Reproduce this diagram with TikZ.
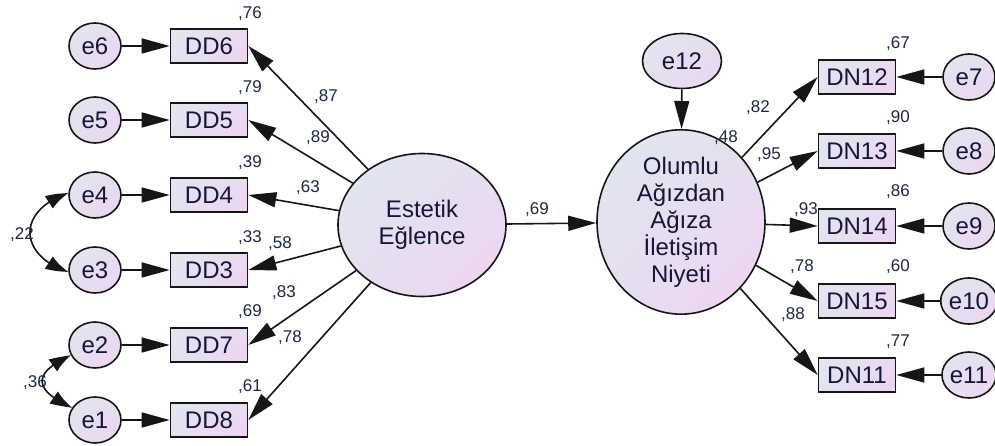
\documentclass[tikz,border=0pt]{standalone}
\usepackage{fontspec}
\setmainfont{Liberation Sans}
\usetikzlibrary{arrows.meta,bending,shapes.geometric}
\definecolor{gA}{HTML}{E1E5EF}
\definecolor{gB}{HTML}{EDD6F1}
\definecolor{ln}{HTML}{161616}
\definecolor{txt}{HTML}{16163A}
\definecolor{lab}{HTML}{1A2848}
\begin{document}
\begin{tikzpicture}[x=1pt,y=1pt,
  every node/.style={font=\fontsize{24}{27}\selectfont, text=txt},
  shadefill/.style={top color=gA, bottom color=gB, shading angle=45, draw=ln, line width=1.6pt},
  obs/.style={shadefill, rectangle, minimum width=77pt, minimum height=34pt, inner sep=0pt},
  err/.style={shadefill, ellipse, minimum width=52pt, minimum height=46pt, inner sep=0pt},
  lat/.style={shadefill, ellipse, minimum width=168pt, minimum height=143pt, inner sep=0pt, align=center},
  reg/.style={line width=1.6pt, draw=ln, -{Triangle[length=28pt,width=15pt]}},
  cov/.style={line width=1.6pt, draw=ln, {Triangle[length=23pt,width=14pt,bend]}-{Triangle[length=23pt,width=14pt,bend]}},
  lbl/.style={font=\fontsize{17}{20}\selectfont, text=lab, inner sep=0pt}
]
\useasboundingbox (0,0) rectangle (995,446);

% latent variables
\node[lat] (est) at (422,221) {Estetik\\Eğlence};
\node[lat] (olu) at (681,224) {Olumlu\\Ağızdan\\Ağıza\\İletişim\\Niyeti};
\node[err, minimum width=79pt, minimum height=55pt] (e12) at (682,385) {e12};

% left indicators and their errors
\node[obs] (dd6) at (209,400) {DD6};
\node[obs] (dd5) at (209,326) {DD5};
\node[obs] (dd4) at (209,251) {DD4};
\node[obs] (dd3) at (209,176) {DD3};
\node[obs] (dd7) at (209,101) {DD7};
\node[obs] (dd8) at (209,26) {DD8};
\node[err] (e6) at (95,400) {e6};
\node[err] (e5) at (95,326) {e5};
\node[err] (e4) at (95,251) {e4};
\node[err] (e3) at (95,176) {e3};
\node[err] (e2) at (95,101) {e2};
\node[err] (e1) at (95,26) {e1};

% right indicators and their errors
\node[obs] (dn12) at (857,369) {DN12};
\node[obs] (dn13) at (857,295) {DN13};
\node[obs] (dn14) at (857,220) {DN14};
\node[obs] (dn15) at (857,145) {DN15};
\node[obs] (dn11) at (857,71) {DN11};
\node[err] (e7) at (969,369) {e7};
\node[err] (e8) at (969,295) {e8};
\node[err] (e9) at (969,220) {e9};
\node[err] (e10) at (969,145) {e10};
\node[err] (e11) at (969,71) {e11};

% error paths
\foreach \e/\d in {e6/dd6,e5/dd5,e4/dd4,e3/dd3,e2/dd7,e1/dd8}
  \draw[reg] (\e.east) -- (\d.west);
\foreach \e/\d in {e7/dn12,e8/dn13,e9/dn14,e10/dn15,e11/dn11}
  \draw[reg] (\e.west) -- (\d.east);
\draw[reg] (e12) -- (olu);

% loadings
\foreach \d in {dd6,dd5,dd4,dd3,dd7,dd8}
  \draw[reg] (est) -- (\d.east);
\foreach \d in {dn12,dn13,dn14,dn15,dn11}
  \draw[reg] (olu) -- (\d.west);
\draw[reg] (est) -- (olu);

% error covariances
\draw[cov] (e4.176) to[out=198,in=162,looseness=1.75] (e3.184);
\draw[cov] (e2.203) to[out=205,in=155,looseness=2.1] (e1.152);

% estimates
\node[lbl] (r6) at (250,432) {,76};
\node[lbl] (r5) at (250,358) {,79};
\node[lbl] (r4) at (250,283) {,39};
\node[lbl] (r3) at (250,208) {,33};
\node[lbl] (r7) at (250,134) {,69};
\node[lbl] (r8) at (250,59) {,61};
\node[lbl] (l6) at (326,349) {,87};
\node[lbl] (l5) at (318,308) {,89};
\node[lbl] (l4) at (308,258) {,63};
\node[lbl] (l3) at (280,202) {,58};
\node[lbl] (l7) at (284,153) {,83};
\node[lbl] (l8) at (290,108) {,78};
\node[lbl] (c43) at (22,211) {,22};
\node[lbl] (c21) at (35,63) {,36};
\node[lbl] (b1) at (537,236) {,69};
\node[lbl] (r12) at (726,308) {,48};
\node[lbl] (m12) at (758,338) {,82};
\node[lbl] (m13) at (769,291) {,95};
\node[lbl] (m14) at (806,236) {,93};
\node[lbl] (m15) at (802,179) {,78};
\node[lbl] (m11) at (793,131) {,88};
\node[lbl] (s12) at (898,402) {,67};
\node[lbl] (s13) at (898,328) {,90};
\node[lbl] (s14) at (898,254) {,86};
\node[lbl] (s15) at (898,179) {,60};
\node[lbl] (s11) at (898,104) {,77};
\end{tikzpicture}
\end{document}
